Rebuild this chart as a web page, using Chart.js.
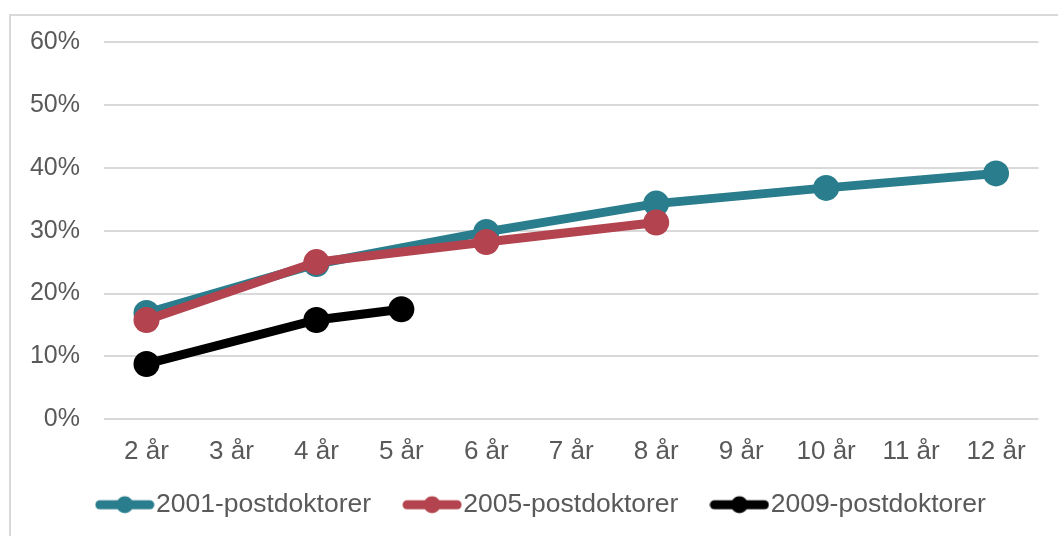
<!DOCTYPE html>
<html>
<head>
<meta charset="utf-8">
<script src="https://cdn.jsdelivr.net/npm/chart.js@4.4.1/dist/chart.umd.min.js"></script>
<style>
  html, body { margin: 0; padding: 0; background: #fff; }
  #wrap { position: relative; width: 1058px; height: 536px; overflow: hidden; }
  #frame { position: absolute; left: 9px; top: 14px; width: 1100px; height: 600px;
           border-left: 2px solid #d9d9d9; border-top: 2px solid #d9d9d9; box-sizing: border-box; }
  canvas { position: absolute; left: 0; top: 0; }
</style>
</head>
<body>
<div id="wrap">
  <div id="frame"></div>
  <canvas id="chart" width="1058" height="536"></canvas>
</div>
<script>
// Categories (years after PhD)
const labels = ['2 år', '3 år', '4 år', '5 år', '6 år', '7 år', '8 år', '9 år', '10 år', '11 år', '12 år'];

// Share per cohort, percent (null = no measurement)
const s2001 = [16.9, null, 24.7, null, 29.8, null, 34.3, null, 36.8, null, 39.1];
const s2005 = [15.8, null, 25.0, null, 28.2, null, 31.3, null, null, null, null];
const s2009 = [8.8, null, 15.8, 17.5, null, null, null, null, null, null, null];

const yTicks = [0, 10, 20, 30, 40, 50, 60];

const textColor = '#595959';
const fontFamily = '"Liberation Sans", Arial, sans-serif';

// legend marker: thick line with a dot in the middle
function legendMarker(color) {
    const c = document.createElement('canvas');
    c.width = 60;
    c.height = 22;
    const g = c.getContext('2d');
    g.strokeStyle = color;
    g.lineWidth = 9;
    g.lineCap = 'round';
    g.beginPath();
    g.moveTo(5, 11);
    g.lineTo(55, 11);
    g.stroke();
    g.fillStyle = color;
    g.beginPath();
    g.arc(30, 11, 8.5, 0, Math.PI * 2);
    g.fill();
    return c;
}

function series(label, data, color, order) {
    return {
        label: label,
        data: data,
        order: order,
        borderColor: color,
        backgroundColor: color,
        borderWidth: 9,
        pointRadius: 13,
        pointHoverRadius: 13,
        pointBorderWidth: 0,
        pointStyle: 'circle',
        legendStyle: legendMarker(color),
        spanGaps: true,
        tension: 0
    };
}

// later cohorts are drawn on top
const datasets = [
    series('2001-postdoktorer', s2001, '#2a7d8c', 3),
    series('2005-postdoktorer', s2005, '#b3434e', 2),
    series('2009-postdoktorer', s2009, '#000000', 1)
];

// nudge the legend to where it sits in the original
const shiftLegend = {
    id: 'shiftLegend',
    afterLayout(chart) {
        const l = chart.legend;
        l.left += 27;
        l.right += 27;
        l.top -= 28;
        l.bottom -= 28;
    }
};

new Chart(document.getElementById('chart'), {
    type: 'line',
    data: { labels: labels, datasets: datasets },
    plugins: [shiftLegend],
    options: {
        responsive: false,
        animation: false,
        layout: { padding: { left: 0, right: 19.5, top: 42, bottom: -20 } },
        plugins: {
            tooltip: { enabled: false },
            legend: {
                position: 'bottom',
                labels: {
                    usePointStyle: true,
                    pointStyleWidth: 36,
                    color: textColor,
                    font: { family: fontFamily, size: 26.5 },
                    padding: 43,
                    generateLabels: chart => chart.data.datasets.map((d, i) => ({
                        text: d.label,
                        fillStyle: d.borderColor,
                        strokeStyle: d.borderColor,
                        fontColor: textColor,
                        lineWidth: 0,
                        pointStyle: d.legendStyle,
                        datasetIndex: i,
                        hidden: false
                    }))
                }
            }
        },
        scales: {
            x: {
                offset: true,
                grid: { display: false, offset: true },
                border: { display: false },
                ticks: {
                    color: textColor,
                    font: { family: fontFamily, size: 26 },
                    padding: 9,
                    maxRotation: 0
                }
            },
            y: {
                min: 0,
                max: 60,
                afterBuildTicks: s => { s.ticks = yTicks.map(v => ({ value: v })); },
                afterFit: s => { s.width = 104; },
                grid: { color: '#d9d9d9', lineWidth: 2, drawTicks: false },
                border: { display: false },
                ticks: {
                    color: textColor,
                    font: { family: fontFamily, size: 25 },
                    padding: 24,
                    callback: v => v + '%'
                }
            }
        }
    }
});
</script>
</body>
</html>
